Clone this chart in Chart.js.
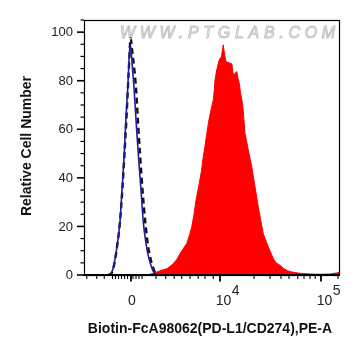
<!DOCTYPE html>
<html>
<head>
<meta charset="utf-8">
<script src="https://cdn.jsdelivr.net/npm/chart.js@4.4.1/dist/chart.umd.min.js"></script>
<style>
html,body{margin:0;padding:0;background:#fff;}
canvas{display:block;}
</style>
</head>
<body>
<canvas id="c" width="361" height="356"></canvas>
<script>
// X values are display channels (0..1024) of the biexponential PE-A axis
const redX = [248,264,291,312,331,344,357,372,384,398,411,422,431,440,448,461,470,477,484,491,500,508,517,521,524,531,541,550,557,562,568,576,591,597,604,611,616,621,626,635,644,657,671,684,697,708,717,728,737,748,757,768,784,797,811,832,864,904,944,984,1008,1024];
const redY = [0,0.3,1.2,2,2.6,3.5,4.7,6.5,8.8,11,13,16.5,19.8,25,30.8,37.7,43,48.7,53,58.3,64,68,72,76,80.3,84.5,88.6,90,94.8,91,87.9,87.5,87,82.4,83,83.8,81,79,75,70,58.3,51.5,44.6,36.3,28,22,17,14,11.6,9,6.8,5,4,2.8,1.9,1.2,0.7,0.4,0.3,0.4,0.8,1];
const blueX = [96,108,117,128,144,152,161,168,175,180,184,188,194,200,208,217,228,237,248,257,271,280,292];
const blueY = [0,0.5,3,9,22,35,50,65,77,88,94.5,93,85,77,64,50,35,22,13,8,3,1,0];
const blackX = [96,112,120,130,144,154,162,170,178,187,192,200,208,216,224,234,245,256,268,280,292];
const blackY = [0,1,4,10,22,36,50,65,82,97.5,93,86,77,63,50,35,22,12,6,2,0];

const yMajorTicks = [0,20,40,60,80,100];
const yMinorTicks = [5,10,15,25,30,35,45,50,55,65,70,75,85,90,95,105];
const xMajorTicks = [188,544,948];
const xMajorLabels = [["0",""],["10","4"],["10","5"]];
const xMinorTicks = [11,51,81,114,126,138,150,162,174,196,208,220,232,288,327,361,391,424,457,484,517,680,744,788,820,855,880,904,925,1016];

const xTitle = "Biotin-FcA98062(PD-L1/CD274),PE-A";
const yTitle = "Relative Cell Number";
const watermark = "WWW.PTGLAB.COM";

function pts(xs, ys){ return xs.map((x,i)=>({x:x, y:ys[i]})); }

const decor = {
  id:'decor',
  beforeDatasetsDraw(chart){
    const ctx = chart.ctx;
    ctx.save();
    ctx.font = 'italic 16px "Liberation Sans", Arial, sans-serif';
    try { ctx.letterSpacing = '4.7px'; } catch(e){}
    ctx.textAlign = 'left';
    ctx.textBaseline = 'alphabetic';
    ctx.fillStyle = '#f4f4f4';
    ctx.strokeStyle = '#c4c4c4';
    ctx.lineWidth = 1;
    ctx.fillText(watermark, 120, 38);
    ctx.strokeText(watermark, 120, 38);
    ctx.restore();
  },
  afterDraw(chart){
    const ctx = chart.ctx, a = chart.chartArea;
    const xs = chart.scales.x, ys = chart.scales.y;
    ctx.save();
    ctx.strokeStyle = '#000';
    ctx.lineWidth = 1.2;
    ctx.strokeRect(a.left + 0.5, a.top + 0.5, a.right - a.left - 1, a.bottom - a.top);
    ctx.lineWidth = 1.8;
    ctx.beginPath(); ctx.moveTo(a.left - 1, a.bottom); ctx.lineTo(a.right, a.bottom); ctx.stroke();
    ctx.lineWidth = 1.6;
    yMajorTicks.forEach(v=>{ const y = ys.getPixelForValue(v); ctx.beginPath(); ctx.moveTo(a.left-7, y); ctx.lineTo(a.left, y); ctx.stroke(); });
    ctx.lineWidth = 1.2;
    yMinorTicks.forEach(v=>{ const y = ys.getPixelForValue(v); ctx.beginPath(); ctx.moveTo(a.left-3.5, y); ctx.lineTo(a.left, y); ctx.stroke(); });
    ctx.lineWidth = 1.8;
    xMajorTicks.forEach(v=>{ const x = xs.getPixelForValue(v); ctx.beginPath(); ctx.moveTo(x, a.bottom); ctx.lineTo(x, a.bottom+6.5); ctx.stroke(); });
    ctx.lineWidth = 1.1;
    xMinorTicks.forEach(v=>{ const x = xs.getPixelForValue(v); ctx.beginPath(); ctx.moveTo(x, a.bottom); ctx.lineTo(x, a.bottom+4); ctx.stroke(); });
    ctx.fillStyle = '#222';
    ctx.font = '13px "Liberation Sans", Arial, sans-serif';
    ctx.textAlign = 'right';
    ctx.textBaseline = 'middle';
    yMajorTicks.forEach(v=>{ ctx.fillText(String(v), a.left - 11, ys.getPixelForValue(v) + 0.5); });
    ctx.font = '14px "Liberation Sans", Arial, sans-serif';
    ctx.textBaseline = 'alphabetic';
    xMajorTicks.forEach((v,i)=>{
      const x = xs.getPixelForValue(v);
      const [base, sup] = xMajorLabels[i];
      if (!sup) { ctx.textAlign = 'center'; ctx.fillText(base, x + 1, 305); }
      else {
        ctx.textAlign = 'center';
        const cx = x + 3.5;
        ctx.fillText(base, cx, 305);
        const w = ctx.measureText(base).width;
        ctx.textAlign = 'left';
        ctx.fillText(sup, cx + w/2 + 0.5, 295);
      }
    });
    ctx.fillStyle = '#111';
    ctx.font = 'bold 14px "Liberation Sans", Arial, sans-serif';
    ctx.textAlign = 'center';
    ctx.textBaseline = 'alphabetic';
    ctx.fillText(xTitle, 210, 333);
    ctx.save();
    ctx.translate(31, 146);
    ctx.rotate(-Math.PI/2);
    ctx.fillText(yTitle, 0, 0);
    ctx.restore();
    ctx.restore();
  }
};

new Chart(document.getElementById('c'), {
  type: 'line',
  data: {
    datasets: [
      { label:'blue', data: pts(blueX, blueY), borderColor:'#1c1c9c', borderWidth:1.6, fill:false, cubicInterpolationMode:'monotone', order:0 },
      { label:'black', data: pts(blackX, blackY), borderColor:'#111', borderWidth:2.4, borderDash:[6,4], fill:false, cubicInterpolationMode:'monotone', order:1 },
      { label:'red', data: pts(redX, redY), borderColor:'#ff0000', borderWidth:1, backgroundColor:'#ff0000', fill:'origin', tension:0, order:2 }
    ]
  },
  options: {
    responsive:false,
    animation:false,
    layout:{ padding:{ left:84, top:20, right:21, bottom:81 } },
    elements:{ point:{ radius:0 } },
    plugins:{ legend:{display:false}, tooltip:{enabled:false} },
    scales:{
      x:{ type:'linear', min:0, max:1024, display:false },
      y:{ type:'linear', min:0, max:105, display:false }
    }
  },
  plugins:[decor]
});
</script>
</body>
</html>
